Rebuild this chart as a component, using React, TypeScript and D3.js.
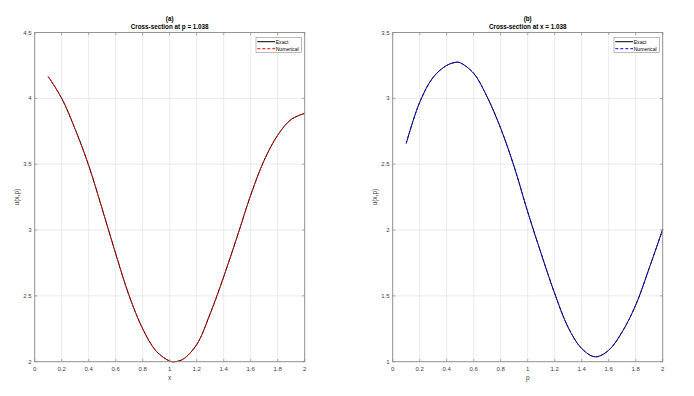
import React from "react";
import * as d3 from "d3";

// panel (a): cross-section at p = 1.038
const xA = [0.1, 0.2, 0.3, 0.4, 0.5, 0.6, 0.7, 0.8, 0.9, 1.0, 1.04, 1.1, 1.2, 1.3, 1.4, 1.5, 1.6, 1.7, 1.8, 1.9, 2.0];
const uA = [4.165, 4.0, 3.765, 3.49, 3.16, 2.82, 2.5, 2.25, 2.08, 2.005, 2.0, 2.02, 2.13, 2.365, 2.645, 2.95, 3.265, 3.53, 3.72, 3.84, 3.886];

// panel (b): cross-section at x = 1.038
const pB = [0.1, 0.2, 0.3, 0.4, 0.47, 0.5, 0.6, 0.7, 0.8, 0.9, 1.0, 1.1, 1.2, 1.3, 1.4, 1.5, 1.6, 1.7, 1.8, 1.9, 2.0];
const uB = [2.658, 2.97, 3.16, 3.25, 3.274, 3.27, 3.19, 3.01, 2.772, 2.48, 2.138, 1.82, 1.518, 1.26, 1.1, 1.037, 1.087, 1.227, 1.43, 1.71, 2.005];

const xTicks = [0, 0.2, 0.4, 0.6, 0.8, 1, 1.2, 1.4, 1.6, 1.8, 2];
const yTicksA = [2, 2.5, 3, 3.5, 4, 4.5];
const yTicksB = [1, 1.5, 2, 2.5, 3, 3.5];

const FONT = "'Liberation Sans', Arial, Helvetica, sans-serif";

type PanelProps = {
  x0: number;
  x1: number;
  tag: string;
  title: string;
  xlabel: string;
  xs: number[];
  ys: number[];
  yDomain: [number, number];
  yTicks: number[];
  numColor: string;
};

function Panel({ x0, x1, tag, title, xlabel, xs, ys, yDomain, yTicks, numColor }: PanelProps) {
  const y0 = 32.5;
  const y1 = 361.7;
  const xscale = d3.scaleLinear().domain([0, 2]).range([x0, x1]);
  const yscale = d3.scaleLinear().domain(yDomain).range([y1, y0]);
  const pts: [number, number][] = xs.map((v, i) => [v, ys[i]]);
  const line = d3
    .line<[number, number]>()
    .x((d) => xscale(d[0]))
    .y((d) => yscale(d[1]))
    .curve(d3.curveCatmullRom.alpha(0.5));
  const path = line(pts) || "";
  const cx = (x0 + x1) / 2;
  const lx = x1 - 48.7; // legend box left
  const ly = y0 + 4.8;

  return (
    <g fontFamily={FONT}>
      <rect x={x0} y={y0} width={x1 - x0} height={y1 - y0} fill="#fff" />
      {/* grid */}
      {xTicks.map((t) => (
        <line key={"gx" + t} x1={xscale(t)} x2={xscale(t)} y1={y0} y2={y1} stroke="#e3e3e3" strokeWidth={0.7} />
      ))}
      {yTicks.map((t) => (
        <line key={"gy" + t} x1={x0} x2={x1} y1={yscale(t)} y2={yscale(t)} stroke="#e3e3e3" strokeWidth={0.7} />
      ))}
      {/* curves */}
      <path d={path} fill="none" stroke="#000" strokeWidth={1} />
      <path d={path} fill="none" stroke={numColor} strokeWidth={1} strokeDasharray="3,2" />
      {/* box + ticks */}
      <rect x={x0} y={y0} width={x1 - x0} height={y1 - y0} fill="none" stroke="#8c8c8c" strokeWidth={0.9} />
      {xTicks.map((t) => (
        <g key={"tx" + t}>
          <line x1={xscale(t)} x2={xscale(t)} y1={y1} y2={y1 - 2.7} stroke="#8c8c8c" strokeWidth={0.7} />
          <line x1={xscale(t)} x2={xscale(t)} y1={y0} y2={y0 + 2.7} stroke="#8c8c8c" strokeWidth={0.7} />
          <text x={xscale(t)} y={y1 + 9.3} fontSize={6} fill="#404040" textAnchor="middle">
            {String(t)}
          </text>
        </g>
      ))}
      {yTicks.map((t) => (
        <g key={"ty" + t}>
          <line x1={x0} x2={x0 + 2.7} y1={yscale(t)} y2={yscale(t)} stroke="#8c8c8c" strokeWidth={0.7} />
          <line x1={x1} x2={x1 - 2.7} y1={yscale(t)} y2={yscale(t)} stroke="#8c8c8c" strokeWidth={0.7} />
          <text x={x0 - 3} y={yscale(t) + 2.1} fontSize={6} fill="#404040" textAnchor="end">
            {String(t)}
          </text>
        </g>
      ))}
      {/* titles & labels */}
      <text x={cx} y={21.2} fontSize={6.3} fontWeight="bold" fill="#000" textAnchor="middle">
        {tag}
      </text>
      <text x={cx} y={29} fontSize={6.3} fontWeight="bold" fill="#000" textAnchor="middle">
        {title}
      </text>
      <text x={cx} y={379.6} fontSize={6.5} fill="#404040" textAnchor="middle">
        {xlabel}
      </text>
      <text
        transform={`translate(${x0 - 15.7},${(y0 + y1) / 2}) rotate(-90)`}
        fontSize={6.5}
        fill="#404040"
        textAnchor="middle"
      >
        u(x,p)
      </text>
      {/* legend */}
      <rect x={lx} y={ly} width={45.3} height={15} fill="#fff" stroke="#8c8c8c" strokeWidth={0.6} />
      <line x1={lx + 1.3} x2={lx + 19} y1={ly + 4.4} y2={ly + 4.4} stroke="#000" strokeWidth={1} />
      <text x={lx + 19.7} y={ly + 6.2} fontSize={5.1} fill="#000">
        Exact
      </text>
      <line
        x1={lx + 1.3}
        x2={lx + 19}
        y1={ly + 11.4}
        y2={ly + 11.4}
        stroke={numColor}
        strokeWidth={1}
        strokeDasharray="3,2"
      />
      <text x={lx + 19.7} y={ly + 13.2} fontSize={5.1} fill="#000">
        Numerical
      </text>
    </g>
  );
}

export default function App() {
  return (
    <svg
      width={694}
      height={396}
      style={{ position: "absolute", left: 0, top: 0, background: "#fff" }}
    >
      <rect width={694} height={396} fill="#fff" />
      <Panel
        x0={34.7}
        x1={304.7}
        tag="(a)"
        title="Cross-section at p = 1.038"
        xlabel="x"
        xs={xA}
        ys={uA}
        yDomain={[2, 4.5]}
        yTicks={yTicksA}
        numColor="#ff0000"
      />
      <Panel
        x0={392.7}
        x1={662.7}
        tag="(b)"
        title="Cross-section at x = 1.038"
        xlabel="p"
        xs={pB}
        ys={uB}
        yDomain={[1, 3.5]}
        yTicks={yTicksB}
        numColor="#0000ff"
      />
    </svg>
  );
}
